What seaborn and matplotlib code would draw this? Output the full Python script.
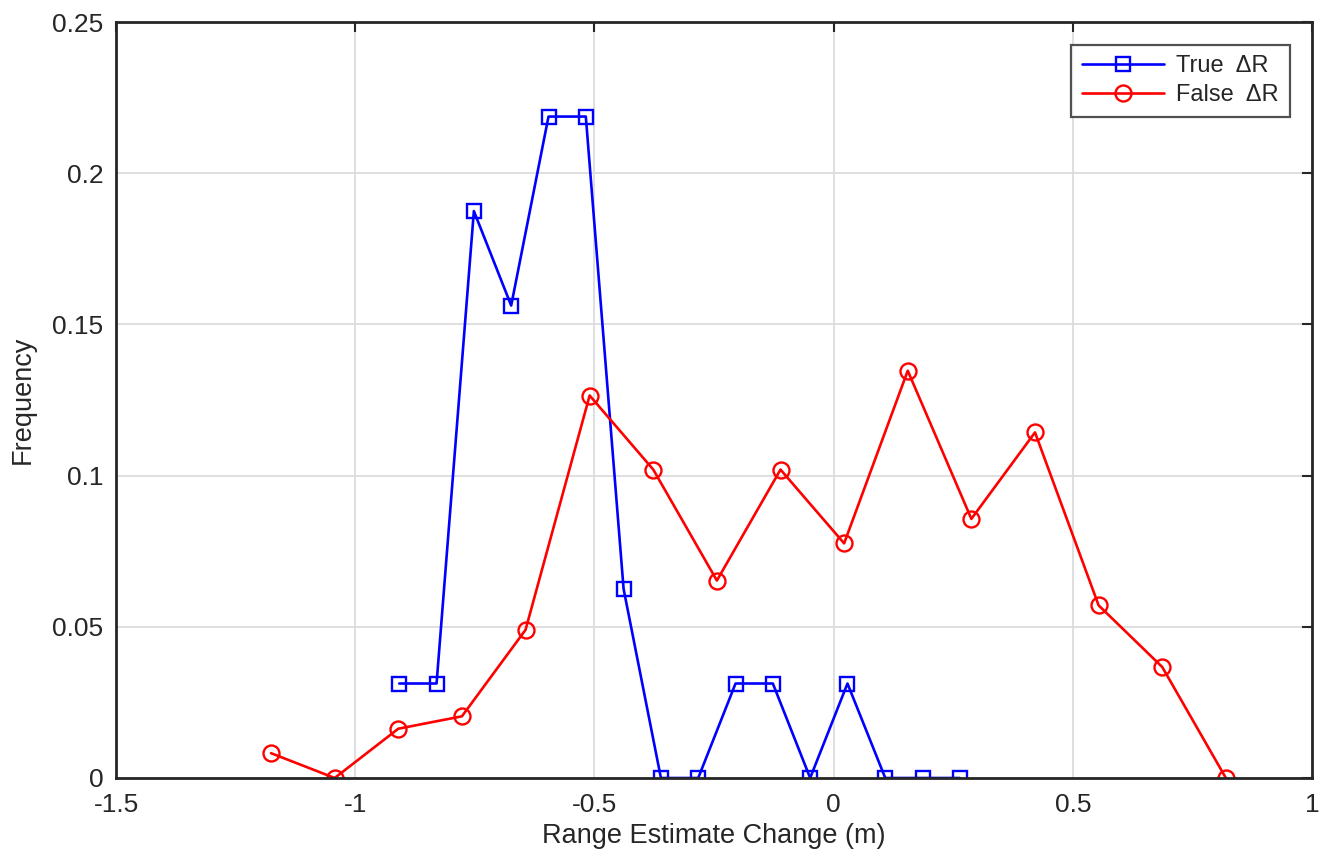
import matplotlib
matplotlib.use("Agg")
import matplotlib.pyplot as plt
import seaborn as sns
import numpy as np
import pandas as pd

# Data
true_x = [-0.908, -0.830, -0.752, -0.674, -0.596, -0.518, -0.439, -0.361,
          -0.283, -0.205, -0.127, -0.049, 0.029, 0.108, 0.186, 0.264]
true_y = [0.03125, 0.03125, 0.1875, 0.15625, 0.21875, 0.21875, 0.0625, 0.0,
          0.0, 0.03125, 0.03125, 0.0, 0.03125, 0.0, 0.0, 0.0]
false_x = [-1.176, -1.043, -0.910, -0.777, -0.644, -0.510, -0.377, -0.244,
           -0.111, 0.022, 0.155, 0.288, 0.421, 0.554, 0.687, 0.820]
false_y = [0.0082, 0.0, 0.0163, 0.0204, 0.0490, 0.1265, 0.1020, 0.0653,
           0.1020, 0.0776, 0.1347, 0.0857, 0.1143, 0.0571, 0.0367, 0.0]
x_ticks = [-1.5, -1, -0.5, 0, 0.5, 1]
x_tick_labels = ["-1.5", "-1", "-0.5", "0", "0.5", "1"]
y_ticks = [0, 0.05, 0.1, 0.15, 0.2, 0.25]
y_tick_labels = ["0", "0.05", "0.1", "0.15", "0.2", "0.25"]
series_names = ["True  \u0394R", "False  \u0394R"]

sns.set_style("white")
plt.rcParams['font.family'] = ['Liberation Sans', 'DejaVu Sans']

df_true = pd.DataFrame({"x": true_x, "y": true_y})
df_false = pd.DataFrame({"x": false_x, "y": false_y})

fig = plt.figure(figsize=(13.31, 8.59), dpi=100)
ax = fig.add_axes([0.0872, 0.0943, 0.8985, 0.880])

sns.lineplot(data=df_true, x="x", y="y", ax=ax, color="#0000ff", marker="s",
             markersize=10, markerfacecolor="none", markeredgecolor="#0000ff",
             markeredgewidth=1.7, linewidth=1.9, label=series_names[0],
             sort=False, estimator=None)
sns.lineplot(data=df_false, x="x", y="y", ax=ax, color="#ff0000", marker="o",
             markersize=11.5, markerfacecolor="none", markeredgecolor="#ff0000",
             markeredgewidth=1.7, linewidth=1.9, label=series_names[1],
             sort=False, estimator=None)

ax.set_xlim(-1.5, 1)
ax.set_ylim(0, 0.25)
ax.set_xticks(x_ticks)
ax.set_xticklabels(x_tick_labels)
ax.set_yticks(y_ticks)
ax.set_yticklabels(y_tick_labels)

ax.grid(True, color="#dcdcdc", linewidth=1.3)
ax.set_axisbelow(True)
for s in ax.spines.values():
    s.set_visible(True)
    s.set_color("#262626")
    s.set_linewidth(2.0)

ax.tick_params(axis="both", which="both", direction="in", length=7, width=1.5,
               colors="#262626", labelsize=19, top=True, right=True)
ax.tick_params(axis="x", pad=11)
ax.tick_params(axis="y", pad=9)

ax.set_xlabel("Range Estimate Change (m)", fontsize=19.5, color="#262626", labelpad=4)
ax.set_ylabel("Frequency", fontsize=19.5, color="#262626", labelpad=12)

leg = ax.legend(loc="upper right", fontsize=17, frameon=True, fancybox=False,
                edgecolor="#262626", borderpad=0.45, handlelength=3.5,
                handletextpad=0.5, labelspacing=0.3, borderaxespad=0.95)
leg.get_frame().set_linewidth(1.6)

fig.savefig("out.png", dpi=100, facecolor="white")
